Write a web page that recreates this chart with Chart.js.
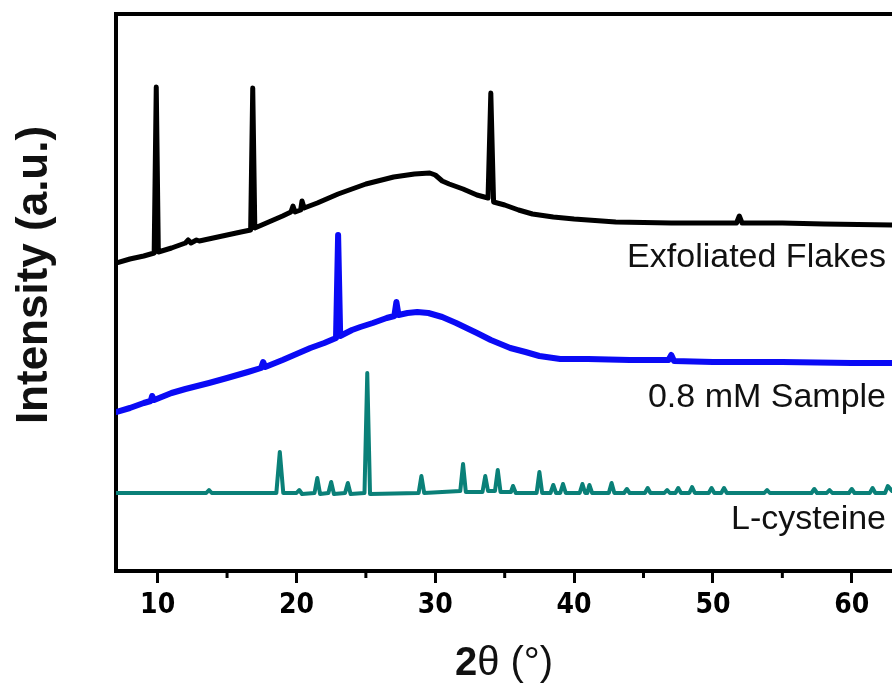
<!DOCTYPE html>
<html>
<head>
<meta charset="utf-8">
<script src="https://cdn.jsdelivr.net/npm/chart.js@4.4.1/dist/chart.umd.min.js"></script>
<style>
  html, body { margin: 0; padding: 0; background: #fff; }
  canvas { display: block; }
</style>
</head>
<body>
<canvas id="xrd" width="892" height="686"></canvas>
<script>
// XRD patterns, intensity in arbitrary units (stacked offsets as in the figure)
const flakesX = [7.0, 8.0, 9.0, 9.75, 9.9, 10.05, 11.0, 12.0, 12.2, 12.4, 12.8, 13.0, 14.0, 15.0, 16.0, 16.7, 16.85, 17.0,
  18.0, 19.0, 19.6, 19.75, 19.9, 20.3, 20.4, 20.55, 21.5, 23.0, 25.0, 27.0, 28.5, 29.6, 30.0, 30.5, 31.0, 32.0, 33.0, 33.8,
  34.0, 34.2, 35.0, 36.0, 37.0, 38.5, 40.0, 43.0, 47.0, 50.5, 51.7, 51.9, 52.1, 55.0, 58.0, 62.9];
const flakesY = [308, 312, 315, 318, 484, 319, 323, 328, 331, 328, 331, 330, 333, 336, 339, 341, 483, 343,
  349, 355, 359, 365, 359, 361, 370, 363, 368, 377, 387, 394, 397, 398, 396, 390, 387, 382, 376, 373,
  478, 369, 366, 361, 357, 354, 352, 349, 348, 348, 348, 355, 348, 348, 347, 346];

const sampleX = [7.0, 8.0, 9.0, 9.5, 9.6, 9.75, 11.0, 12.0, 13.7, 15.0, 16.5, 17.45, 17.6, 17.75, 19.0, 20.0, 21.0, 22.0,
  22.85, 23.0, 23.15, 24.0, 24.6, 25.5, 26.5, 27.05, 27.2, 27.35, 28.0, 28.7, 29.5, 30.5, 31.5, 33.0, 34.0, 35.4,
  36.5, 37.5, 39.0, 41.0, 44.0, 46.8, 47.0, 47.2, 50.0, 55.0, 60.0, 62.9];
const sampleY = [159, 163, 168, 170, 175, 171, 178, 182, 188, 193, 199, 203, 209, 204, 211, 217, 223, 228,
  233, 336, 235, 241, 244, 248, 253, 255, 269, 256, 258, 259, 258, 254, 248, 238, 231, 223,
  219, 215, 212, 212, 211, 211, 216, 210, 209, 209, 208, 208];

const cysteineX = [7.0, 13.5, 13.7, 13.9, 18.55, 18.8, 19.05, 20.0, 20.2, 20.4, 21.3, 21.5, 21.7, 22.3, 22.5, 22.7,
  23.5, 23.7, 23.9, 24.9, 25.1, 25.3, 28.8, 29.0, 29.2, 31.8, 32.0, 32.2, 33.4, 33.6, 33.8, 34.3, 34.5, 34.7,
  35.45, 35.6, 35.8, 37.3, 37.5, 37.7, 38.3, 38.5, 38.7, 39.0, 39.2, 39.4, 40.4, 40.6, 40.8, 40.95, 41.1, 41.3,
  42.5, 42.7, 42.9, 43.6, 43.8, 44.0, 45.1, 45.3, 45.5, 46.5, 46.7, 46.9, 47.3, 47.5, 47.7, 48.3, 48.5, 48.7,
  49.7, 49.9, 50.1, 50.6, 50.8, 51.0, 53.7, 53.9, 54.1, 57.1, 57.3, 57.5, 58.2, 58.4, 58.6, 59.8, 60.0, 60.2,
  61.3, 61.5, 61.7, 62.4, 62.6, 62.9];
const cysteineY = [78, 78, 81, 78, 78, 119, 78, 78, 81, 77, 78, 93, 77, 78, 89, 77,
  78, 88, 77, 78, 198, 77, 78, 95, 78, 80, 107, 79, 79, 95, 80, 80, 101, 79,
  79, 85, 78, 78, 99, 78, 78, 86, 78, 78, 87, 78, 78, 87, 78, 78, 86, 78,
  78, 88, 78, 78, 82, 78, 78, 83, 78, 78, 81, 78, 78, 83, 78, 78, 84, 78,
  78, 83, 78, 78, 83, 78, 78, 81, 78, 78, 82, 78, 78, 81, 78, 78, 82, 78,
  78, 83, 78, 78, 85, 80];

const majorTicks = [10, 20, 30, 40, 50, 60];
const minorTicks = [15, 25, 35, 45, 55];
const seriesNames = ['Exfoliated Flakes', '0.8 mM Sample', 'L-cysteine'];
const seriesColors = ['#000000', '#0a0af5', '#0a8078'];

const toPoints = (xs, ys) => xs.map((x, i) => ({ x: x, y: ys[i] }));

// frame top edge, minor ticks, curve names and axis titles
const decorations = {
  id: 'decorations',
  afterDraw(chart) {
    const { ctx, chartArea, scales } = chart;
    ctx.save();
    ctx.strokeStyle = '#000';
    ctx.lineWidth = 4;
    ctx.beginPath();
    ctx.moveTo(chartArea.left - 2, chartArea.top);
    ctx.lineTo(chartArea.right, chartArea.top);
    ctx.stroke();

    ctx.lineWidth = 3;
    minorTicks.forEach(v => {
      const x = scales.x.getPixelForValue(v);
      ctx.beginPath();
      ctx.moveTo(x, chartArea.bottom);
      ctx.lineTo(x, chartArea.bottom + 7);
      ctx.stroke();
    });

    // names sit under the right end of each curve
    const nameLevels = [313, 173, 51];
    ctx.fillStyle = '#111';
    ctx.font = '34px "Liberation Sans", Arial, sans-serif';
    ctx.textAlign = 'right';
    ctx.textBaseline = 'middle';
    seriesNames.forEach((name, i) => {
      ctx.fillText(name, chartArea.right - 6, scales.y.getPixelForValue(nameLevels[i]));
    });

    // y title
    ctx.save();
    ctx.translate(35, 275);
    ctx.rotate(-Math.PI / 2);
    ctx.textAlign = 'center';
    ctx.textBaseline = 'middle';
    ctx.font = 'bold 44px "Liberation Sans", Arial, sans-serif';
    ctx.fillText('Intensity (a.u.)', 0, 0);
    ctx.restore();

    // x title: bold "2", regular "θ (°)"
    const boldPart = '2', plainPart = 'θ (°)';
    ctx.textAlign = 'left';
    ctx.textBaseline = 'alphabetic';
    ctx.font = 'bold 40px "Liberation Sans", Arial, sans-serif';
    const w1 = ctx.measureText(boldPart).width;
    ctx.font = '40px "Liberation Sans", Arial, sans-serif';
    const w2 = ctx.measureText(plainPart).width;
    const startX = (chartArea.left + chartArea.right) / 2 - (w1 + w2) / 2;
    ctx.font = 'bold 40px "Liberation Sans", Arial, sans-serif';
    ctx.fillText(boldPart, startX, 675);
    ctx.font = '40px "Liberation Sans", Arial, sans-serif';
    ctx.fillText(plainPart, startX + w1, 675);
    ctx.restore();
  }
};

new Chart(document.getElementById('xrd'), {
  type: 'line',
  data: {
    datasets: [
      { label: seriesNames[0], data: toPoints(flakesX, flakesY), borderColor: seriesColors[0], borderWidth: 5 },
      { label: seriesNames[1], data: toPoints(sampleX, sampleY), borderColor: seriesColors[1], borderWidth: 6 },
      { label: seriesNames[2], data: toPoints(cysteineX, cysteineY), borderColor: seriesColors[2], borderWidth: 4 }
    ]
  },
  options: {
    responsive: false,
    animation: false,
    events: [],
    layout: { padding: { top: 14, left: 0, right: 0, bottom: 0 } },
    elements: {
      point: { radius: 0 },
      line: { tension: 0, borderJoinStyle: 'round', borderCapStyle: 'round' }
    },
    plugins: {
      legend: { display: false },
      tooltip: { enabled: false },
      title: { display: false }
    },
    scales: {
      x: {
        type: 'linear',
        min: 7,
        max: 62.9,
        afterFit: scale => { scale.height = 115; },
        afterBuildTicks: scale => { scale.ticks = majorTicks.map(v => ({ value: v })); },
        border: { display: true, color: '#000', width: 4 },
        grid: { display: true, drawOnChartArea: false, drawTicks: true, tickLength: 12, tickWidth: 3, tickColor: '#000' },
        ticks: {
          color: '#000',
          padding: 6,
          maxRotation: 0,
          font: { family: '"Liberation Sans Narrow", "DejaVu Sans Condensed", "Liberation Sans", sans-serif', weight: 'bold', size: 28 }
        },
        title: { display: false }
      },
      y: {
        type: 'linear',
        min: 0,
        max: 557,
        afterFit: scale => { scale.width = 116; },
        border: { display: true, color: '#000', width: 4 },
        grid: { display: false },
        ticks: { display: false },
        title: { display: false }
      }
    }
  },
  plugins: [decorations]
});
</script>
</body>
</html>
